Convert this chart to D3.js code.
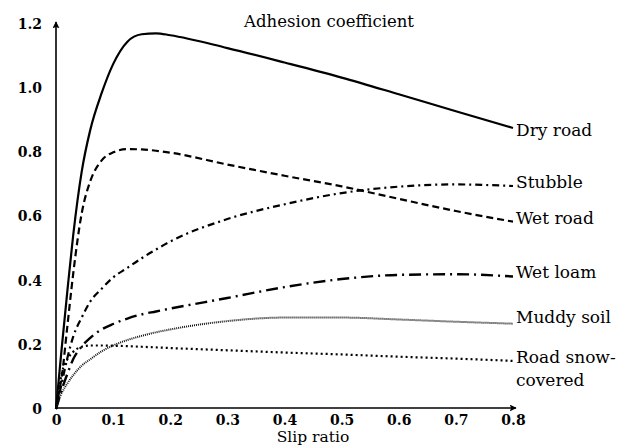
<!DOCTYPE html>
<html>
<head>
<meta charset="utf-8">
<script src="https://cdn.jsdelivr.net/npm/d3@7"></script>
<style>
  body { margin: 0; background: #fff; }
  svg { display: block; }
  svg text { font-family: 'DejaVu Serif', 'Liberation Serif', 'Noto Serif', 'Times New Roman', Times, serif !important; fill: #000; }
</style>
</head>
<body>
<svg id="chart" width="632" height="448"></svg>
<script>
// slip ratio samples shared by every curve
const slip = [0, 0.005, 0.01, 0.02, 0.03, 0.045, 0.06, 0.08, 0.1, 0.125, 0.15, 0.175, 0.2, 0.3, 0.4, 0.5, 0.6, 0.7, 0.8]

const dryRoad    = [0, 0.095, 0.19, 0.37, 0.54, 0.74, 0.87, 0.985, 1.075, 1.145, 1.168, 1.171, 1.165, 1.125, 1.08, 1.033, 0.981, 0.928, 0.876]
const wetRoad    = [0, 0.05, 0.10, 0.26, 0.42, 0.61, 0.71, 0.775, 0.80, 0.81, 0.809, 0.805, 0.799, 0.762, 0.727, 0.694, 0.655, 0.617, 0.584]
const stubble    = [0, 0.04, 0.08, 0.16, 0.225, 0.285, 0.335, 0.375, 0.41, 0.44, 0.47, 0.497, 0.522, 0.592, 0.638, 0.673, 0.693, 0.70, 0.695]
const wetLoam    = [0, 0.03, 0.06, 0.11, 0.155, 0.195, 0.222, 0.248, 0.265, 0.282, 0.295, 0.304, 0.313, 0.346, 0.38, 0.405, 0.418, 0.42, 0.413]
const muddySoil  = [0, 0.03, 0.05, 0.08, 0.105, 0.135, 0.155, 0.18, 0.198, 0.215, 0.228, 0.239, 0.248, 0.274, 0.285, 0.285, 0.279, 0.272, 0.266]
const snowRoad   = [0, 0.06, 0.11, 0.155, 0.178, 0.194, 0.198, 0.198, 0.197, 0.196, 0.194, 0.192, 0.19, 0.183, 0.176, 0.17, 0.163, 0.157, 0.15]

const seriesNames = ['Dry road', 'Stubble', 'Wet road', 'Wet loam', 'Muddy soil', 'Road snow-covered']
const labelLines  = [['Dry road'], ['Stubble'], ['Wet road'], ['Wet loam'], ['Muddy soil'], ['Road snow-', 'covered']]
// value on the y axis where each name sits, at the right end
const labelAt     = [0.87, 0.708, 0.596, 0.427, 0.287, 0.163]

const xTicks = [0, 0.1, 0.2, 0.3, 0.4, 0.5, 0.6, 0.7, 0.8]
const yTicks = [0, 0.2, 0.4, 0.6, 0.8, 1.0, 1.2]

const serif = "'DejaVu Serif', 'Liberation Serif', 'Noto Serif', 'Times New Roman', Times, serif"

const svg = d3.select('#chart')

const x = d3.scaleLinear().domain([0, 0.8]).range([56, 513])
const y = d3.scaleLinear().domain([0, 1.2]).range([409, 24])

const styles = {
  'Dry road':          { dash: null,        width: 2.2, color: '#000' },
  'Wet road':          { dash: '7,4',       width: 2.2, color: '#000' },
  'Stubble':           { dash: '7,4,2,4',   width: 2.2, color: '#000' },
  'Wet loam':          { dash: '12,5,2,5',  width: 2.4, color: '#000' },
  'Muddy soil':        { dash: '1,1',       width: 2.0, color: '#111' },
  'Road snow-covered': { dash: '2,3',       width: 2.2, color: '#000' }
}

const values = {
  'Dry road': dryRoad,
  'Wet road': wetRoad,
  'Stubble': stubble,
  'Wet loam': wetLoam,
  'Muddy soil': muddySoil,
  'Road snow-covered': snowRoad
}

const line = d3.line()
  .x(d => x(d[0]))
  .y(d => y(d[1]))
  .curve(d3.curveMonotoneX)

// arrow head
svg.append('defs').append('marker')
  .attr('id', 'arrow')
  .attr('viewBox', '0 0 10 10')
  .attr('refX', 9).attr('refY', 5)
  .attr('markerWidth', 7).attr('markerHeight', 7)
  .attr('markerUnits', 'userSpaceOnUse')
  .attr('orient', 'auto')
  .append('path')
  .attr('d', 'M0,0 L10,5 L0,10 L2,5 Z')
  .attr('fill', '#000')

const fmt = d => d === 0 ? '0' : d3.format('.1f')(d)

// axes via d3 axis, domain line replaced by arrow lines
const xAxis = svg.append('g')
  .attr('transform', `translate(0,${y(0)})`)
  .call(d3.axisBottom(x).tickValues(xTicks).tickSize(0).tickPadding(6).tickFormat(fmt))
xAxis.attr('font-family', serif)
xAxis.select('.domain').remove()
xAxis.selectAll('text').attr('font-family', serif).style('font-size', '14px').style('font-weight', 'bold')

const yAxis = svg.append('g')
  .attr('transform', `translate(${x(0)},0)`)
  .call(d3.axisLeft(y).tickValues(yTicks).tickSize(0).tickPadding(14).tickFormat(fmt))
yAxis.attr('font-family', serif)
yAxis.select('.domain').remove()
yAxis.selectAll('text').attr('font-family', serif).style('font-size', '14px').style('font-weight', 'bold')

svg.append('line')
  .attr('x1', x(0) - 1).attr('y1', y(0) - 1)
  .attr('x2', x(0.8) + 3).attr('y2', y(0) - 1)
  .attr('stroke', '#000').attr('stroke-width', 1.6)
  .attr('marker-end', 'url(#arrow)')

svg.append('line')
  .attr('x1', x(0)).attr('y1', y(0))
  .attr('x2', x(0)).attr('y2', y(1.2) - 2)
  .attr('stroke', '#000').attr('stroke-width', 1.6)
  .attr('marker-end', 'url(#arrow)')

// curves
seriesNames.forEach(name => {
  const st = styles[name]
  svg.append('path')
    .datum(slip.map((s, i) => [s, values[name][i]]))
    .attr('d', line)
    .attr('fill', 'none')
    .attr('stroke', st.color)
    .attr('stroke-width', st.width)
    .attr('stroke-dasharray', st.dash)
})

// names at the right end
seriesNames.forEach((name, i) => {
  const t = svg.append('text')
    .attr('x', x(0.8) + 3)
    .attr('y', y(labelAt[i]))
    .attr('font-family', serif)
    .style('font-size', '17px')
  labelLines[i].forEach((ln, j) => {
    t.append('tspan')
      .attr('x', x(0.8) + 3)
      .attr('dy', j === 0 ? '0.35em' : '1.4em')
      .text(ln)
  })
})

svg.append('text')
  .attr('x', 329).attr('y', 27)
  .attr('text-anchor', 'middle')
  .attr('font-family', serif)
  .style('font-size', '16.5px')
  .text('Adhesion coefficient')

svg.append('text')
  .attr('x', 313).attr('y', 442)
  .attr('text-anchor', 'middle')
  .attr('font-family', serif)
  .style('font-size', '15.5px')
  .text('Slip ratio')
</script>
</body>
</html>
